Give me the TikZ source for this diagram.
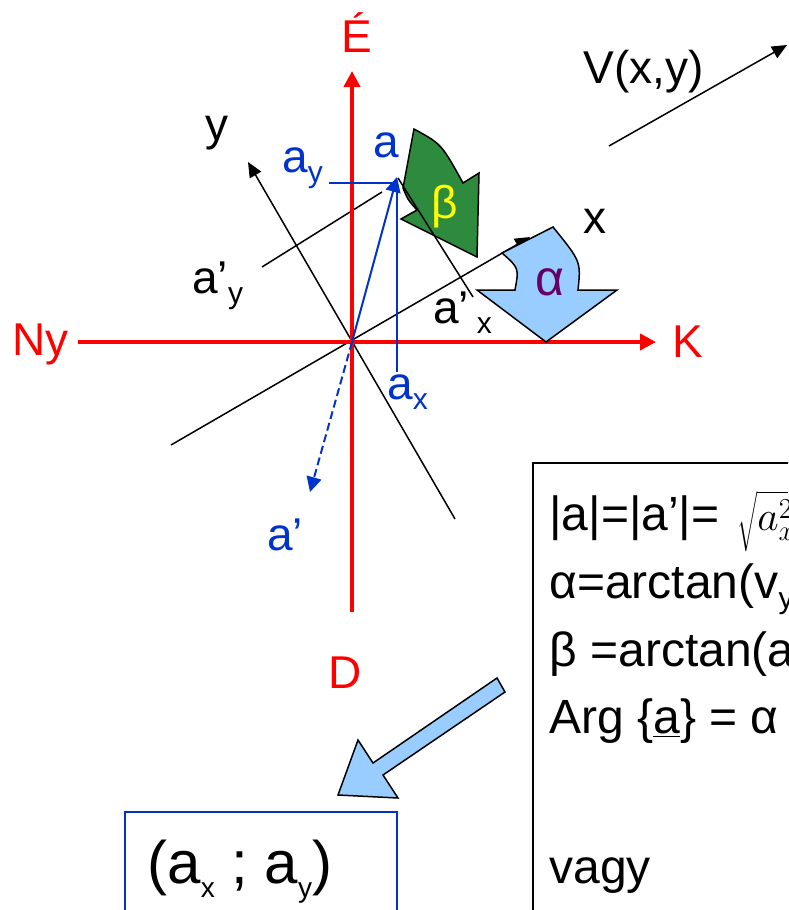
\documentclass[tikz,border=0pt]{standalone}
\usepackage{fontspec}
\setmainfont{Liberation Sans}
\usetikzlibrary{arrows.meta}
\definecolor{axred}{RGB}{255,0,0}
\definecolor{vecblue}{RGB}{0,51,204}
\definecolor{arrgreen}{RGB}{46,139,62}
\definecolor{arrblue}{RGB}{153,204,255}
\definecolor{alphapurple}{RGB}{102,0,102}
\definecolor{betayellow}{RGB}{255,255,0}
\newcommand{\lblfont}{\fontsize{23}{27}\selectfont}
\newcommand{\sbs}[1]{\raisebox{-5pt}{\fontsize{15}{15}\selectfont #1}}
\newcommand{\sbb}[1]{\raisebox{-7pt}{\fontsize{14}{14}\selectfont #1}}
\begin{document}
\begin{tikzpicture}[x=0.5pt,y=-0.5pt,
  lab/.style={font=\lblfont, inner sep=0pt, anchor=base west},
  boxtxt/.style={font=\fontsize{24}{28}\selectfont, inner sep=0pt, anchor=base west},
  redaxis/.style={draw=axred, line width=2pt, -{Triangle[length=8pt,width=8pt]}},
  blkaxis/.style={draw=black, line width=0.75pt, -{Triangle[length=7.5pt,width=6.5pt]}},
  thinblk/.style={draw=black, line width=0.75pt},
  projblue/.style={draw=vecblue, line width=0.75pt},
  vecarrow/.style={draw=vecblue, line width=1pt, -{Triangle[length=7.5pt,width=7.5pt]}},
  blockarrow/.style={draw=black, line width=0.75pt, line join=miter}
]
\useasboundingbox (0,0) rectangle (788,910);
\clip (0,0) rectangle (788,910);

% named points
\coordinate (O) at (352,342);
\coordinate (Ntop) at (352,71);
\coordinate (Sbot) at (352,612);
\coordinate (Wend) at (78,342);
\coordinate (Eend) at (656,342);
\coordinate (Xs) at (171,445);
\coordinate (Xe) at (530,237);
\coordinate (Ys) at (455,519);
\coordinate (Ye) at (248,162);
\coordinate (A) at (397,177);
\coordinate (Ap) at (310,492);
\coordinate (AyL) at (329,183);
\coordinate (AyR) at (397,183);
\coordinate (AxB) at (397,372);
\coordinate (PyS) at (262,267);
\coordinate (PyE) at (382,192);
\coordinate (PxS) at (398,178);
\coordinate (PxE) at (473,297);
\coordinate (Vs) at (609,146);
\coordinate (Ve) at (787,45);

% green beta arrow
\filldraw[blockarrow, fill=arrgreen]
  (414,129) .. controls (441.5,144) .. (463,183) -- (479,173) -- (477,257)
  -- (401,219) -- (417,210) .. controls (408,200) .. (403,188) -- cycle;

% black rotated axes and projections
\draw[blkaxis] (Xs) -- (Xe);
\draw[blkaxis] (Ys) -- (Ye);
\draw[thinblk] (PyS) -- (PyE);
\draw[thinblk] (PxS) -- (PxE);

% red axes
\draw[redaxis] (Sbot) -- (Ntop);
\draw[redaxis] (Wend) -- (Eend);

% blue alpha arrow
\filldraw[blockarrow, fill=arrblue]
  (502,253) -- (553,227) .. controls (581,261.5) .. (578,290) -- (617,290)
  -- (546,342) -- (477,290) -- (515,290) .. controls (519,268) .. (502,253) -- cycle;

% blue vectors
\draw[projblue] (AyL) -- (AyR) -- (AxB);
\draw[vecarrow] (O) -- (A);
\draw[vecarrow, dash pattern=on 4pt off 2pt] (O) -- (Ap);

% V arrow
\draw[blkaxis] (Vs) -- (Ve);

% big light blue arrow
\filldraw[blockarrow, fill=arrblue]
  (497,678) -- (505,692) -- (383,775) -- (398,798) -- (338,795) -- (358,740) -- (373,763) -- cycle;

% boxes
\draw[draw=black, line width=0.75pt] (533,463) rectangle (820,940);
\draw[draw=vecblue, line width=0.75pt] (125,812) rectangle (397,940);

% labels
\node[lab, text=axred] (lE) at (341,52) {É};
\node[lab, text=axred] (lNy) at (12,355) {Ny};
\node[lab, text=axred] (lK) at (672,357) {K};
\node[lab, text=axred] (lD) at (328,688) {D};
\node[lab] (ly) at (205,140) {y};
\node[lab] (lx) at (583,233) {x};
\node[lab, text=vecblue] (la) at (373,157) {a};
\node[lab, text=vecblue] (lay) at (282,172) {a\sbs{y}};
\node[lab] (lapy) at (192,293) {a’\sbs{y}};
\node[lab] (lapx) at (433,323) {a’\,\sbs{x}};
\node[lab, text=vecblue] (lax) at (387,399) {a\sbs{x}};
\node[lab, text=vecblue] (lap) at (267,550) {a’};
\node[lab] (lV) at (583,83) {V(x,y)};
\node[font=\lblfont, text=betayellow, inner sep=0pt] (lb) at (445,207) {β};
\node[font=\fontsize{25}{30}\selectfont, text=alphapurple, inner sep=0pt] (lal) at (550,282) {α};

% right box text
\node[boxtxt] (t1) at (549,530) {|a|=|a’|=\hspace{9pt}{\fontsize{22}{26}\selectfont$\sqrt{a_x^2+a_y^2}$}};
\node[boxtxt] (t2) at (549,598) {α=arctan(v\sbs{y}};
\node[boxtxt] (t3) at (549,666) {β =arctan(a};
\node[boxtxt] (t4) at (549,733) {Arg \{\underline{a}\} = α};
\node[boxtxt] (t5) at (549,883) {vagy};

% bottom-left box text
\node[font=\fontsize{30}{34}\selectfont, inner sep=0pt, anchor=base west] (pair) at (147,883) {(a\sbb{x} ; a\sbb{y})};
\end{tikzpicture}
\end{document}
